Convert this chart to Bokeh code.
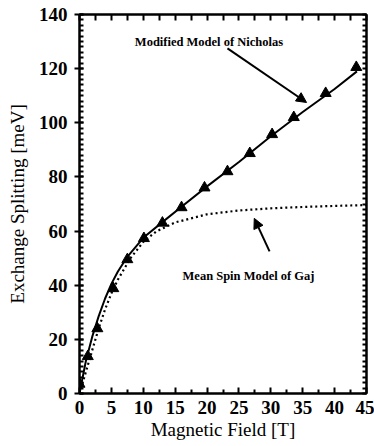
from bokeh.plotting import figure
from bokeh.models import LinearAxis, Range1d, Arrow, NormalHead, Label, FixedTicker
from bokeh.embed import file_html
from bokeh.resources import INLINE

# Measured triangles (Modified Model of Nicholas data points)
field_pts = [0.0, 1.3, 2.8, 5.3, 7.5, 10.1, 13.0, 16.0, 19.6, 23.2, 26.7, 30.2, 33.6, 38.6, 43.4]
split_pts = [3.5, 13.7, 24.0, 38.8, 49.5, 57.3, 63.0, 68.7, 76.0, 82.0, 88.7, 95.7, 102.0, 110.9, 120.5]

# Modified Model of Nicholas (solid curve)
nich_x = [0, 0.5, 1, 2, 3, 4, 5, 6, 7.5, 10, 13, 16, 20, 25, 30, 35, 40, 43.5]
nich_y = [0, 6, 12, 21, 28.5, 35, 40.5, 45, 50.5, 57.5, 63.3, 69, 76.5, 85.5, 95, 104, 112.5, 119]

# Mean Spin Model of Gaj (dotted curve)
gaj_x = [0, 1, 2, 3, 4, 5, 6, 8, 10, 12, 15, 20, 25, 30, 35, 40, 45]
gaj_y = [0, 8, 16, 24, 31, 37, 42, 50, 56, 59.8, 63.2, 66.2, 67.6, 68.4, 68.9, 69.3, 69.6]

x_ticks = [0, 5, 10, 15, 20, 25, 30, 35, 40, 45]
y_ticks = [0, 20, 40, 60, 80, 100, 120, 140]

FONT = "Liberation Serif"

p = figure(width=374, height=446,
           min_border_left=79, min_border_top=14, min_border_right=8, min_border_bottom=53,
           x_range=Range1d(0, 45), y_range=Range1d(0, 140),
           output_backend="svg", toolbar_location=None,
           x_axis_label="Magnetic Field [T]", y_axis_label="Exchange Splitting [meV]")
p.grid.visible = False
p.outline_line_color = "black"
p.outline_line_width = 2
p.background_fill_color = "white"
p.border_fill_color = "white"

xa = p.xaxis[0]
xa.ticker = FixedTicker(ticks=x_ticks, minor_ticks=[2.5 + 5 * i for i in range(9)])
ya = p.yaxis[0]
ya.ticker = FixedTicker(ticks=y_ticks, minor_ticks=list(range(0, 141, 2)))

for ax in (xa, ya):
    ax.axis_line_width = 2
    ax.axis_line_color = "black"
    ax.major_tick_line_width = 2
    ax.major_tick_line_color = "black"
    ax.minor_tick_line_width = 2
    ax.minor_tick_line_color = "black"
    ax.major_label_text_font = FONT
    ax.major_label_text_font_style = "bold"
    ax.major_label_text_font_size = "19px"
    ax.major_label_text_color = "black"
    ax.axis_label_text_font = FONT
    ax.axis_label_text_font_style = "normal"
    ax.axis_label_text_font_size = "19px"
    ax.axis_label_text_color = "black"

xa.major_tick_in = 6
xa.major_tick_out = 0
xa.minor_tick_in = 4
xa.minor_tick_out = 0
xa.major_label_standoff = 7
xa.axis_label_standoff = 2

ya.major_tick_in = 4
ya.major_tick_out = 5
ya.minor_tick_in = 4
ya.minor_tick_out = 0
ya.major_label_standoff = 7
ya.axis_label_standoff = 8

# top and right axes with inward ticks only (no labels)
top = LinearAxis(ticker=FixedTicker(ticks=[], minor_ticks=[2.5 * i for i in range(19)]),
                 minor_tick_in=6, minor_tick_out=0, major_tick_in=0, major_tick_out=0,
                 axis_line_width=2, axis_line_color="black",
                 minor_tick_line_width=2, minor_tick_line_color="black")
right = LinearAxis(ticker=FixedTicker(ticks=[], minor_ticks=list(range(0, 141, 2))),
                   major_tick_in=0, major_tick_out=0,
                   minor_tick_in=4, minor_tick_out=0,
                   axis_line_width=2, axis_line_color="black",
                   minor_tick_line_width=2, minor_tick_line_color="black")
p.add_layout(top, "above")
p.add_layout(right, "right")

p.line(gaj_x, gaj_y, line_color="black", line_width=2.2, line_dash="2 3")
p.line(nich_x, nich_y, line_color="black", line_width=2)
p.scatter(field_pts, split_pts, marker="triangle", size=11, fill_color="black", line_color="black")

p.add_layout(Arrow(end=NormalHead(size=10, fill_color="black", line_color="black"),
                   x_start=23.2, y_start=127.5, x_end=35.6, y_end=107.5,
                   line_width=2, line_color="black"))
p.add_layout(Arrow(end=NormalHead(size=10, fill_color="black", line_color="black"),
                   x_start=29.8, y_start=52.5, x_end=27.4, y_end=64.7,
                   line_width=2, line_color="black"))

p.add_layout(Label(x=20.3, y=130, text="Modified Model of Nicholas", text_align="center",
                   text_baseline="middle", text_font=FONT, text_font_style="bold",
                   text_font_size="12.5px", text_color="black"))
p.add_layout(Label(x=26.5, y=43.5, text="Mean Spin Model of Gaj", text_align="center",
                   text_baseline="middle", text_font=FONT, text_font_style="bold",
                   text_font_size="12.5px", text_color="black"))

open("out.html", "w").write(file_html(p, INLINE))
